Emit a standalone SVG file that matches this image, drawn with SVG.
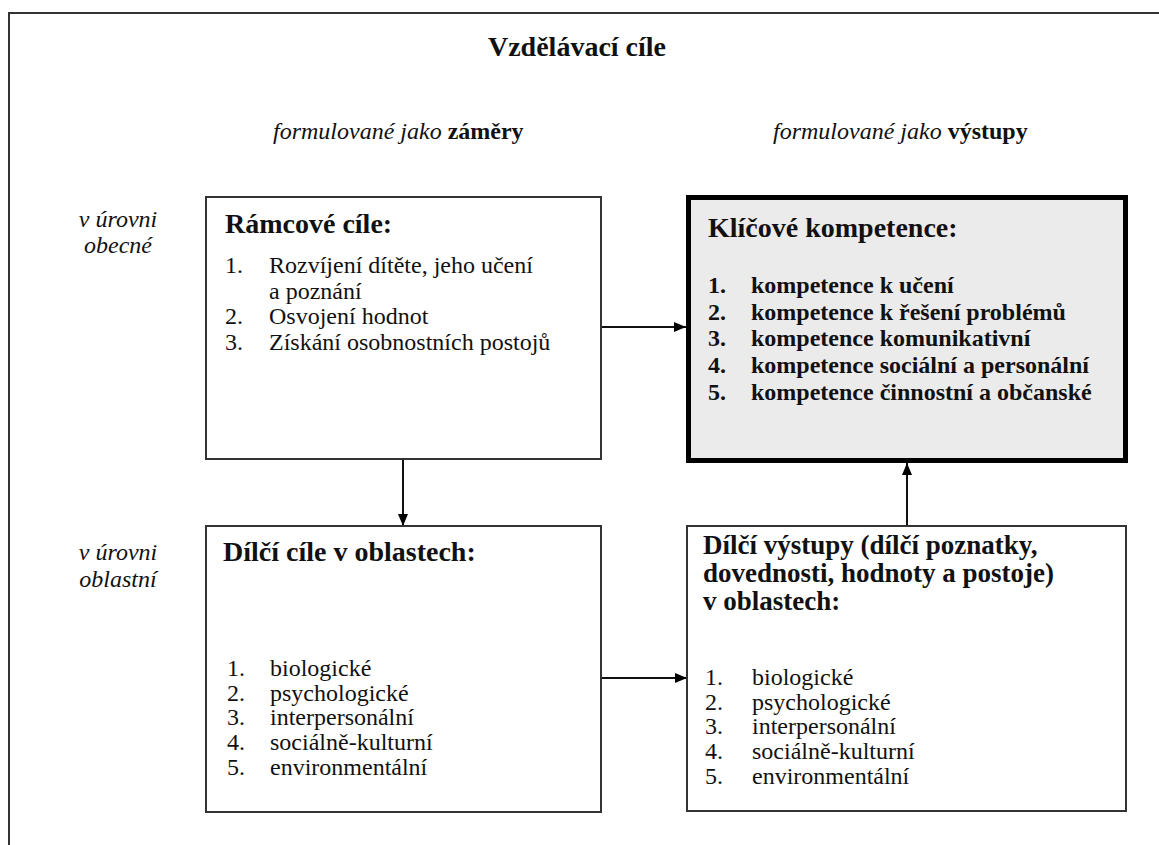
<svg xmlns="http://www.w3.org/2000/svg" width="1159" height="845" viewBox="0 0 1159 845">
<style>
text{font-family:"Liberation Serif","Times New Roman",serif;fill:#111;}
.t{font-size:28px;font-weight:bold;}
.h{font-size:28px;font-weight:bold;}
.h2{font-size:27px;font-weight:bold;}
.i{font-size:24px;font-style:italic;}
.r{font-size:24px;}
.b{font-size:24px;font-weight:bold;}
.box{fill:#fff;stroke:#333;stroke-width:2;}
.key{fill:#ebebeb;stroke:#000;stroke-width:5;}
.ln{stroke:#111;stroke-width:2;fill:none;}
</style>
<defs>
<marker id="ah" viewBox="0 0 12 10" refX="12" refY="5" markerWidth="12" markerHeight="10" markerUnits="userSpaceOnUse" orient="auto">
<path d="M0,0 L12,5 L0,10 Z" fill="#000"/>
</marker>
</defs>
<rect width="1159" height="845" fill="#fff"/>
<g id="frame">
<path d="M9,845 L9,13 L1159,13" fill="none" stroke="#333" stroke-width="2"/>
</g>
<g id="header">
<text class="t" x="577" y="56" text-anchor="middle">Vzdělávací cíle</text>
<text class="i" x="273" y="139">formulované jako <tspan font-style="normal" font-weight="bold">záměry</tspan></text>
<text class="i" x="773" y="139">formulované jako <tspan font-style="normal" font-weight="bold">výstupy</tspan></text>
<text class="i" x="118" y="227" text-anchor="middle">v úrovni</text>
<text class="i" x="118" y="253" text-anchor="middle">obecné</text>
<text class="i" x="118" y="560" text-anchor="middle">v úrovni</text>
<text class="i" x="118" y="587" text-anchor="middle">oblastní</text>
</g>
<g id="connectors">
<line class="ln" x1="403" y1="459" x2="403" y2="526" marker-end="url(#ah)"/>
<line class="ln" x1="601" y1="327" x2="686" y2="327" marker-end="url(#ah)"/>
<line class="ln" x1="907" y1="526" x2="907" y2="463" marker-end="url(#ah)"/>
<line class="ln" x1="601" y1="678" x2="687" y2="678" marker-end="url(#ah)"/>
</g>
<g id="ramcove-cile">
<rect class="box" x="206" y="197" width="395" height="262"/>
<text class="h" x="225" y="233">Rámcové cíle:</text>
<text class="r" x="225" y="273">1.</text><text class="r" x="269" y="273">Rozvíjení dítěte, jeho učení</text>
<text class="r" x="269" y="299">a poznání</text>
<text class="r" x="225" y="324">2.</text><text class="r" x="269" y="324">Osvojení hodnot</text>
<text class="r" x="225" y="350">3.</text><text class="r" x="269" y="350">Získání osobnostních postojů</text>
</g>
<g id="klicove-kompetence">
<rect class="key" x="688.5" y="197.5" width="437" height="263"/>
<text class="h" x="708" y="237">Klíčové kompetence:</text>
<text class="b" x="708" y="293">1.</text><text class="b" x="751" y="293">kompetence k učení</text>
<text class="b" x="708" y="320">2.</text><text class="b" x="751" y="320">kompetence k řešení problémů</text>
<text class="b" x="708" y="346">3.</text><text class="b" x="751" y="346">kompetence komunikativní</text>
<text class="b" x="708" y="373">4.</text><text class="b" x="751" y="373">kompetence sociální a personální</text>
<text class="b" x="708" y="400">5.</text><text class="b" x="751" y="400">kompetence činnostní a občanské</text>
</g>
<g id="dilci-cile">
<rect class="box" x="206" y="526" width="395" height="286"/>
<text class="h" x="223" y="561">Dílčí cíle v oblastech:</text>
<text class="r" x="227" y="676">1.</text><text class="r" x="270" y="676">biologické</text>
<text class="r" x="227" y="701">2.</text><text class="r" x="270" y="701">psychologické</text>
<text class="r" x="227" y="725">3.</text><text class="r" x="270" y="725">interpersonální</text>
<text class="r" x="227" y="750">4.</text><text class="r" x="270" y="750">sociálně-kulturní</text>
<text class="r" x="227" y="775">5.</text><text class="r" x="270" y="775">environmentální</text>
</g>
<g id="dilci-vystupy">
<rect class="box" x="687" y="526" width="439" height="285"/>
<text class="h2" x="703" y="554">Dílčí výstupy (dílčí poznatky,</text>
<text class="h2" x="703" y="582">dovednosti, hodnoty a postoje)</text>
<text class="h2" x="703" y="610">v oblastech:</text>
<text class="r" x="705" y="685">1.</text><text class="r" x="752" y="685">biologické</text>
<text class="r" x="705" y="710">2.</text><text class="r" x="752" y="710">psychologické</text>
<text class="r" x="705" y="734">3.</text><text class="r" x="752" y="734">interpersonální</text>
<text class="r" x="705" y="759">4.</text><text class="r" x="752" y="759">sociálně-kulturní</text>
<text class="r" x="705" y="784">5.</text><text class="r" x="752" y="784">environmentální</text>
</g>
</svg>
